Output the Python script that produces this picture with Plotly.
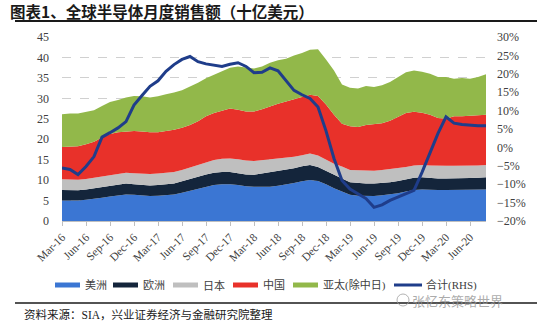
import plotly.graph_objects as go

months = ["Mar-16","Apr-16","May-16","Jun-16","Jul-16","Aug-16","Sep-16","Oct-16","Nov-16","Dec-16",
          "Jan-17","Feb-17","Mar-17","Apr-17","May-17","Jun-17","Jul-17","Aug-17","Sep-17","Oct-17","Nov-17","Dec-17",
          "Jan-18","Feb-18","Mar-18","Apr-18","May-18","Jun-18","Jul-18","Aug-18","Sep-18","Oct-18","Nov-18","Dec-18",
          "Jan-19","Feb-19","Mar-19","Apr-19","May-19","Jun-19","Jul-19","Aug-19","Sep-19","Oct-19","Nov-19","Dec-19",
          "Jan-20","Feb-20","Mar-20","Apr-20","May-20","Jun-20","Jul-20","Aug-20"]
tick_labels = months[::3]

americas = [5.0,5.0,5.0,5.2,5.4,5.7,6.0,6.3,6.5,6.4,6.2,6.1,6.2,6.4,6.5,6.9,7.4,7.9,8.4,8.8,9.0,9.0,
            8.8,8.5,8.4,8.4,8.4,8.6,8.9,9.3,9.7,10.0,9.8,9.0,8.0,7.2,6.4,6.2,6.1,6.1,6.3,6.5,6.8,7.2,7.6,7.7,
            7.6,7.6,7.6,7.6,7.6,7.6,7.7,7.7]
europe = [2.6,2.6,2.5,2.5,2.6,2.7,2.7,2.7,2.7,2.6,2.6,2.6,2.6,2.6,2.7,2.8,2.8,2.9,3.0,3.0,3.0,3.0,
          2.9,2.9,2.9,3.2,3.5,3.6,3.6,3.6,3.7,3.7,3.4,3.2,3.2,3.2,3.1,3.1,3.1,3.1,3.0,3.0,3.0,3.0,3.0,3.0,
          2.9,2.8,2.8,2.8,2.8,2.9,2.9,3.0]
japan = [2.6,2.6,2.6,2.6,2.6,2.6,2.6,2.6,2.6,2.7,2.8,2.8,2.8,2.8,2.8,2.8,2.9,2.9,2.9,3.1,3.2,3.3,
         3.4,3.4,3.4,3.3,3.3,3.2,3.0,2.8,2.7,2.8,2.8,2.8,2.8,2.9,3.0,3.1,3.1,3.1,3.2,3.2,3.1,3.0,3.0,3.0,
         3.1,3.1,3.1,3.1,3.1,3.1,3.0,3.0]
china = [7.9,8.0,8.2,8.5,8.8,9.4,10.0,10.1,10.1,10.3,10.3,10.2,10.1,10.2,10.3,10.3,10.4,10.7,11.3,11.5,11.8,12.2,
         12.1,12.0,12.1,12.4,12.8,13.3,13.7,14.1,14.3,14.4,14.6,13.5,12.0,10.5,10.7,10.6,11.2,11.4,11.4,11.8,12.5,13.2,13.1,12.8,
         12.4,11.7,11.5,12.1,12.1,12.1,12.2,12.3]
asia_pac = [8.0,8.1,8.0,7.9,7.7,7.7,7.8,7.9,8.3,8.6,8.6,8.5,8.8,9.0,9.1,9.2,9.3,9.4,9.3,9.4,9.6,10.0,
            10.6,10.8,10.5,10.5,10.7,10.6,10.5,10.7,10.7,11.0,11.4,11.0,10.8,9.6,9.4,9.4,9.5,9.1,9.3,9.5,9.8,10.0,10.1,10.0,
            10.0,10.0,10.2,9.2,9.4,9.1,9.4,9.9]
total_yoy = [-5.6,-6.0,-7.4,-5.2,-2.5,2.8,4.0,5.3,7.0,11.5,14.1,16.6,18.1,20.7,22.5,23.9,24.7,23.3,22.7,22.4,22.0,22.6,
             23.0,22.0,20.3,20.4,21.6,20.8,18.0,15.5,14.3,13.3,11.0,4.5,-3.0,-9.0,-11.3,-12.6,-13.9,-16.3,-15.6,-14.4,-13.5,-12.6,-11.7,-6.8,
             -1.5,3.8,8.3,6.6,6.2,6.0,5.9,5.9]

series_names = ["美洲", "欧洲", "日本", "中国", "亚太(除中日)"]
series_values = [americas, europe, japan, china, asia_pac]
series_colors = ["#3b76d3", "#14253b", "#bfbfbf", "#e8312a", "#92b84a"]
line_name = "合计(RHS)"
line_color = "#1f3d8a"

W, H = 550, 327
L, R, T, B = 62, 64, 37, 106
PW, PH = W - L - R, H - T - B

def px(x):
    return (x - L) / PW

def py(y):
    return (H - B - y) / PH

FONT = "Liberation Serif, Times New Roman, Noto Sans CJK SC, serif"

fig = go.Figure()
for name, vals, col in zip(series_names, series_values, series_colors):
    fig.add_trace(go.Scatter(x=months, y=vals, name=name, mode="lines",
                             stackgroup="one", line=dict(width=0, color=col),
                             fillcolor=col, showlegend=False))
fig.add_trace(go.Scatter(x=months, y=total_yoy, name=line_name, mode="lines",
                         yaxis="y2", line=dict(color=line_color, width=3), showlegend=False))

fig.update_layout(
    width=W, height=H,
    margin=dict(l=L, r=R, t=T, b=B),
    paper_bgcolor="white", plot_bgcolor="white",
    font=dict(family=FONT, size=12, color="#404040"),
    xaxis=dict(type="category", range=[0, len(months) - 1],
               tickmode="array", tickvals=tick_labels, ticktext=tick_labels,
               tickangle=-45, ticks="outside", ticklen=4, tickcolor="#bfbfbf",
               showline=True, linecolor="#bfbfbf", showgrid=False,
               tickfont=dict(size=11.5, family=FONT)),
    yaxis=dict(range=[0, 45], dtick=5, showgrid=True, gridcolor="#d0d0d0",
               griddash="dash", gridwidth=1, zeroline=False, ticks="",
               ticklabelstandoff=12, tickfont=dict(size=12, family=FONT)),
    yaxis2=dict(range=[-20, 30], dtick=5, overlaying="y", side="right",
                showgrid=False, zeroline=False, ticksuffix="%", ticks="",
                ticklabelstandoff=10, tickfont=dict(size=12, family=FONT)),
    showlegend=False,
)

# manual legend (legend row at y=285)
LEG_Y = 285
swatch_x = [55, 113, 173, 233, 293]
for sx, name, col in zip(swatch_x, series_names, series_colors):
    fig.add_shape(type="rect", xref="paper", yref="paper",
                  x0=px(sx), x1=px(sx + 25), y0=py(LEG_Y + 2.5), y1=py(LEG_Y - 2.5),
                  line=dict(width=0), fillcolor=col)
    fig.add_annotation(xref="paper", yref="paper", x=px(sx + 28), y=py(LEG_Y), xanchor="left",
                       yanchor="middle", text=name, showarrow=False,
                       font=dict(size=11, family="Liberation Serif, Noto Sans CJK SC", color="#404040"))
fig.add_shape(type="line", xref="paper", yref="paper", x0=px(394), x1=px(422),
              y0=py(LEG_Y), y1=py(LEG_Y), line=dict(color=line_color, width=3))
fig.add_annotation(xref="paper", yref="paper", x=px(424), y=py(LEG_Y), xanchor="left",
                   yanchor="middle", text=line_name, showarrow=False,
                   font=dict(size=11, family="Liberation Serif, Noto Sans CJK SC", color="#404040"))

# title
fig.add_annotation(xref="paper", yref="paper", x=px(8), y=py(11), xanchor="left", yanchor="middle",
                   text="<b>图表1、全球半导体月度销售额（十亿美元）</b>", showarrow=False,
                   font=dict(size=15.5, family="Noto Sans CJK SC", color="#1a1a1a"))
fig.add_shape(type="line", xref="paper", yref="paper", x0=px(15), x1=px(537), y0=py(21), y1=py(21),
              line=dict(color="#1a1a1a", width=2))
# footer line
fig.add_shape(type="line", xref="paper", yref="paper", x0=px(15), x1=px(537), y0=py(303), y1=py(303),
              line=dict(color="#1a1a1a", width=1.5))
fig.add_annotation(xref="paper", yref="paper", x=px(22), y=py(314), xanchor="left", yanchor="middle",
                   text="资料来源：SIA，兴业证券经济与金融研究院整理", showarrow=False,
                   font=dict(size=11.5, family="Liberation Serif, Noto Sans CJK SC", color="#1a1a1a"))
# watermark
fig.add_shape(type="circle", xref="paper", yref="paper", x0=px(397), x1=px(409), y0=py(306), y1=py(294),
              line=dict(color="rgba(160,160,160,0.8)", width=1))
fig.add_annotation(xref="paper", yref="paper", x=px(505), y=py(300), xanchor="right", yanchor="middle",
                   text="张忆东策略世界", showarrow=False,
                   font=dict(size=13, family="Noto Sans CJK SC", color="rgba(150,150,150,0.8)"))

fig.write_html("out.html")
